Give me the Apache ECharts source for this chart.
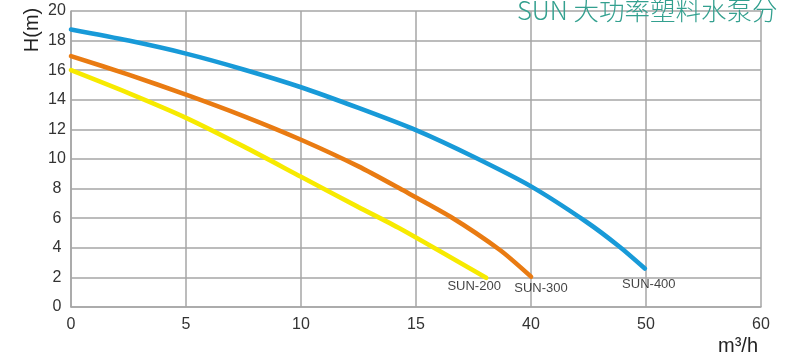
<!DOCTYPE html>
<html>
<head>
<meta charset="utf-8">
<script src="https://cdn.jsdelivr.net/npm/echarts@6/dist/echarts.min.js"></script>
<style>html,body{margin:0;padding:0;background:#fff}#c{width:785px;height:362px}</style>
</head>
<body>
<div id="c"></div>
<script>
// x positions are in axis slots (0..6); tick labels name each slot
const xTickLabels = ['0', '5', '10', '15', '40', '50', '60'];
const yTicks = [0, 2, 4, 6, 8, 10, 12, 14, 16, 18, 20];

const sun400X = [0, 0.5, 1, 1.5, 2, 2.5, 3, 3.5, 4, 4.48, 4.77, 4.99];
const sun400Y = [18.75, 18.0, 17.12, 16.05, 14.85, 13.45, 11.95, 10.15, 8.15, 5.76, 4.07, 2.6];

const sun300X = [0, 0.5, 1, 1.5, 2, 2.5, 2.86, 3.3, 3.73, 4];
const sun300Y = [16.95, 15.7, 14.35, 12.9, 11.3, 9.5, 8.0, 6.1, 3.85, 2.05];

const sun200X = [0, 0.5, 1, 1.5, 2, 2.5, 2.86, 3.61];
const sun200Y = [16.0, 14.45, 12.78, 10.85, 8.8, 6.75, 5.3, 1.97];

const seriesNames = ['SUN-200', 'SUN-300', 'SUN-400'];
const titleText = 'SUN 大功率塑料水泵分';

const pairs = (xs, ys) => xs.map((x, i) => [x, ys[i]]);
const last = (xs, ys) => [xs[xs.length - 1], ys[ys.length - 1]];

const chart = echarts.init(document.getElementById('c'));
const gridColor = '#a6a6a6';
const lineSeries = (name, xs, ys, color) => ({
  name, type: 'line', data: pairs(xs, ys), smooth: 0.25, showSymbol: false, symbol: 'none',
  lineStyle: { color, width: 4.6, cap: 'round' }, z: 3
});
const labelSeries = (name, xs, ys, offset) => ({
  name: name + '-label', type: 'scatter', data: [last(xs, ys)], symbolSize: 1,
  itemStyle: { color: 'rgba(0,0,0,0)' }, silent: true, z: 4,
  label: { show: true, position: 'inside', offset, formatter: name, color: '#111',
    fontSize: 13, fontFamily: 'Liberation Sans, Arial, sans-serif' }
});

chart.setOption({
  animation: false,
  backgroundColor: '#fff',
  grid: { left: 71, right: 24, top: 11, bottom: 55, containLabel: false },
  xAxis: {
    type: 'value', min: 0, max: 6, interval: 1,
    axisLine: { show: true, lineStyle: { color: gridColor, width: 1.5 } },
    axisTick: { show: false },
    splitLine: { show: true, lineStyle: { color: gridColor, width: 1.5 } },
    axisLabel: { formatter: v => xTickLabels[Math.round(v)] ?? '', color: '#333', fontSize: 16,
      fontFamily: 'Liberation Sans, Arial, sans-serif', margin: 10 }
  },
  yAxis: {
    type: 'value', min: yTicks[0], max: yTicks[yTicks.length - 1], interval: 2,
    axisLine: { show: true, lineStyle: { color: gridColor, width: 1.5 } },
    axisTick: { show: false },
    splitLine: { show: true, lineStyle: { color: gridColor, width: 1.5 } },
    axisLabel: { color: '#333', fontSize: 16, align: 'center', margin: 14,
      fontFamily: 'Liberation Sans, Arial, sans-serif' }
  },
  graphic: [
    { type: 'text', left: 517, top: -2, z: 10,
      style: { text: titleText, fill: '#33a08f', fontSize: 25.5,
        fontFamily: 'Noto Sans CJK SC, sans-serif', fontWeight: 300 } },
    { type: 'text', x: 32, y: 30, rotation: Math.PI / 2, z: 10,
      style: { text: 'H(m)', fill: '#222', fontSize: 20, align: 'center', verticalAlign: 'middle',
        fontFamily: 'Liberation Sans, Arial, sans-serif' } },
    { type: 'text', x: 738, y: 346, z: 10,
      style: { text: 'm³/h', fill: '#222', fontSize: 20, align: 'center', verticalAlign: 'middle',
        fontFamily: 'Liberation Sans, Arial, sans-serif' } }
  ],
  series: [
    lineSeries(seriesNames[2], sun400X, sun400Y, '#189ad8'),
    lineSeries(seriesNames[1], sun300X, sun300Y, '#e97b12'),
    lineSeries(seriesNames[0], sun200X, sun200Y, '#f7ea00'),
    labelSeries(seriesNames[0], sun200X, sun200Y, [-12, 9]),
    labelSeries(seriesNames[1], sun300X, sun300Y, [10, 12]),
    labelSeries(seriesNames[2], sun400X, sun400Y, [4, 16])
  ]
});
</script>
</body>
</html>
